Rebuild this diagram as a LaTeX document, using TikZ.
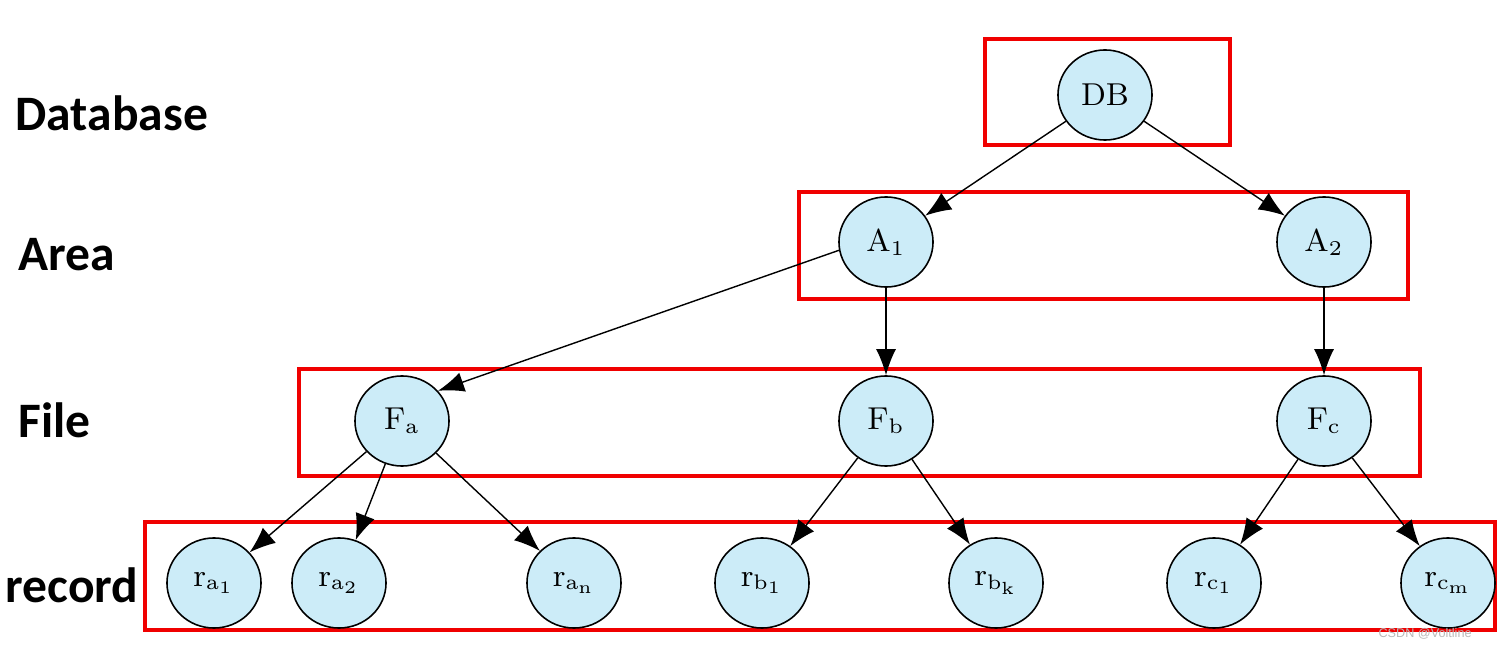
\documentclass[tikz,border=0pt]{standalone}
\usepackage{fontspec}
\usetikzlibrary{shapes.geometric, arrows.meta}
\newfontfamily\levelfont{Carlito}
\newfontfamily\markfont{Liberation Sans}
\definecolor{nodeblue}{RGB}{204,236,248}
\definecolor{boxred}{RGB}{240,0,0}
\tikzset{
entity/.style={ellipse, draw, line width=0.45pt, fill=nodeblue, minimum width=0.94cm,
  minimum height=0.9cm, inner sep=0pt, font=\fontsize{9}{10}\selectfont},
level/.style={anchor=west, inner sep=0pt, font=\levelfont\bfseries\fontsize{14.1}{16}\selectfont},
group/.style={draw=boxred, line width=1.2pt},
link/.style={-{Latex[length=2.6mm, width=2mm]}, line width=0.4pt}
}

\begin{document}
\begin{tikzpicture}[x=0.01cm, y=-0.01cm]
\useasboundingbox (0,0) rectangle (1497,649);
\node[level] (database) at (15,113) {Database};
\node[level] (area) at (18,255) {Area};
\node[level] (file) at (18,420) {File};
\node[level] (record) at (5,585) {record};

\draw[group] (985,39) rectangle (1230,145);
\draw[group] (799,192) rectangle (1408,299);
\draw[group] (299,369) rectangle (1420,476);
\draw[group] (145,522) rectangle (1495,630);

\node[entity] (DB) at (1105,95) {DB};
\node[entity] (A1) at (886,242) {$\mathrm{A}_1$};
\node[entity] (A2) at (1324,242) {$\mathrm{A}_2$};
\node[entity] (Fa) at (402,421) {$\mathrm{F}_\mathrm{a}$};
\node[entity] (Fb) at (886,421) {$\mathrm{F}_\mathrm{b}$};
\node[entity] (Fc) at (1324,421) {$\mathrm{F}_\mathrm{c}$};
\node[entity] (ra1) at (214,583) {$\mathrm{r}_{\mathrm{a}_1}$};
\node[entity] (ra2) at (339,583) {$\mathrm{r}_{\mathrm{a}_2}$};
\node[entity] (ran) at (574,583) {$\mathrm{r}_{\mathrm{a}_\mathrm{n}}$};
\node[entity] (rb1) at (762,583) {$\mathrm{r}_{\mathrm{b}_1}$};
\node[entity] (rbk) at (996,583) {$\mathrm{r}_{\mathrm{b}_\mathrm{k}}$};
\node[entity] (rc1) at (1214,583) {$\mathrm{r}_{\mathrm{c}_1}$};
\node[entity] (rcm) at (1448,583) {$\mathrm{r}_{\mathrm{c}_\mathrm{m}}$};

\draw[link] (DB) -- (A1);
\draw[link] (DB) -- (A2);
\draw[link] (A1.190) -- (Fa.40);
\draw[link] (A1) -- (Fb);
\draw[link] (A2) -- (Fc);
\draw[link] (Fa) -- (ra1);
\draw[link] (Fa) -- (ra2);
\draw[link] (Fa) -- (ran);
\draw[link] (Fb) -- (rb1);
\draw[link] (Fb) -- (rbk);
\draw[link] (Fc) -- (rc1);
\draw[link] (Fc) -- (rcm);

\node[anchor=east, text=gray!55, font=\markfont\fontsize{3.6}{4}\selectfont] (mark) at (1484,634) {CSDN @Voltline};
\end{tikzpicture}
\end{document}
